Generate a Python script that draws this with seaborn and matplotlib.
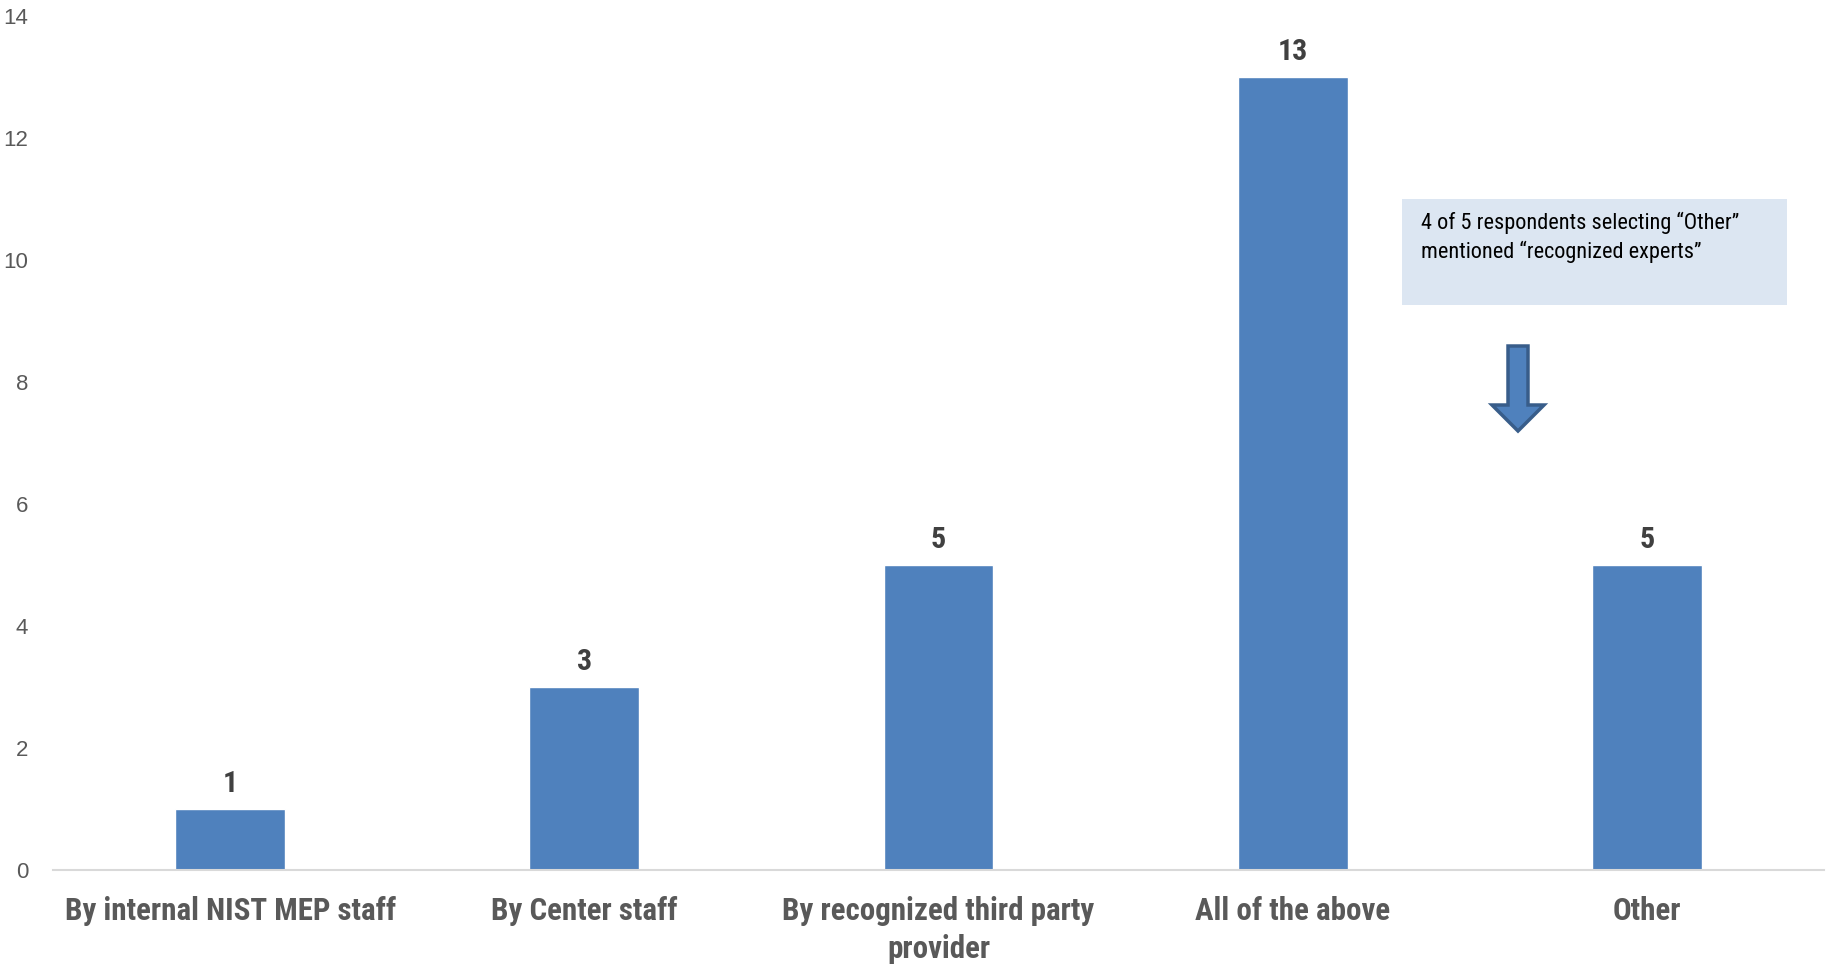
import seaborn as sns
import pandas as pd
import matplotlib.pyplot as plt
from matplotlib import font_manager
from matplotlib.patches import Rectangle, FancyArrow
from matplotlib.transforms import IdentityTransform

categories = ["By internal NIST MEP staff", "By Center staff",
              "By recognized third party\nprovider", "All of the above", "Other"]
counts = [1, 3, 5, 13, 5]
y_ticks = [0, 2, 4, 6, 8, 10, 12, 14]
note = "4 of 5 respondents selecting \u201cOther\u201d\nmentioned \u201crecognized experts\u201d"

df = pd.DataFrame({"category": categories, "count": counts})

sns.set_style("white")
plt.rcParams["font.family"] = ["Liberation Sans", "DejaVu Sans"]

# pick a condensed face if one is installed, otherwise shrink Liberation Sans
names = {f.name for f in font_manager.fontManager.ttflist}
narrow_fam = None
for cand in ["Liberation Sans Narrow", "Arial Narrow", "DejaVu Sans Condensed",
             "Roboto Condensed", "Open Sans Condensed"]:
    if cand in names:
        narrow_fam = cand
        break
if narrow_fam:
    narrow = [narrow_fam, "DejaVu Sans"]
    k = 1.0
else:
    narrow = ["Liberation Sans", "DejaVu Sans"]
    k = 0.86

fig = plt.figure(figsize=(18.33, 9.65), dpi=100)
ax = fig.add_axes([0.029, 0.0984, 0.966, 0.885])

sns.barplot(data=df, x="category", y="count", color="#4f81bd",
            width=0.31, saturation=1, ax=ax)

ax.bar_label(ax.containers[0], fontsize=21.5 * k, fontweight="bold",
             color="#404040", padding=8, family=narrow)

ax.set_ylim(0, 14)
ax.set_xlim(-0.5, 4.5)
ax.set_yticks(y_ticks)
ax.tick_params(axis="y", length=0, pad=18, labelsize=16, labelcolor="#595959")
ax.tick_params(axis="x", length=0, pad=19, labelcolor="#595959")
for lab in ax.get_xticklabels():
    lab.set_fontsize(22.3 * k)
    lab.set_fontweight("bold")
    lab.set_family(narrow)
    lab.set_linespacing(1.3)
ax.set_xlabel("")
ax.set_ylabel("")

for s in ["top", "right", "left"]:
    ax.spines[s].set_visible(False)
ax.spines["bottom"].set_color("#d9d9d9")
ax.spines["bottom"].set_linewidth(1.5)

# note box and arrow, in figure pixels
H = 965
fig.patches.append(Rectangle((1402, H - 305), 385, 106, transform=IdentityTransform(),
                             facecolor="#dce6f2", edgecolor="none"))
fig.text(1421, H - 212, note, transform=IdentityTransform(), fontsize=16 * k,
         va="top", ha="left", color="black", family=narrow, linespacing=1.35)
fig.patches.append(FancyArrow(1518, H - 346, 0, -85, width=20, head_width=52,
                              head_length=26, length_includes_head=True,
                              transform=IdentityTransform(),
                              facecolor="#4f81bd", edgecolor="#385d8a", linewidth=2.5))

fig.savefig("out.png", dpi=100)
